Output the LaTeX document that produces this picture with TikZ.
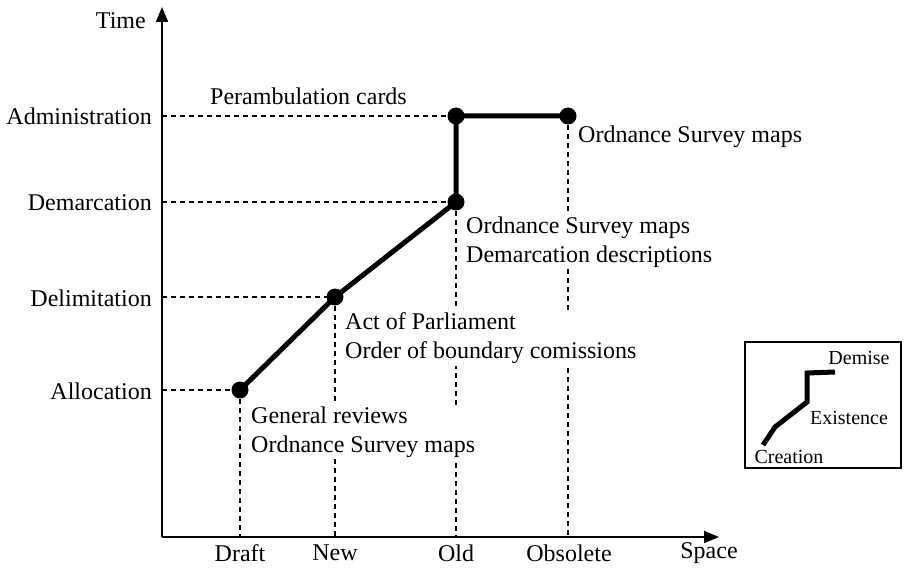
\documentclass[tikz,border=0pt]{standalone}
\usepackage{fontspec}
\setmainfont{Liberation Serif}
\usetikzlibrary{arrows.meta}
\begin{document}
\begin{tikzpicture}[x=1pt,y=-1pt,
  font=\fontsize{24}{29}\selectfont,
  axis/.style={line width=2pt,-{Triangle[length=15pt,width=12pt]}},
  guide/.style={line width=1.2pt,dash pattern=on 5pt off 4pt},
  life/.style={line width=5pt,line join=round},
  event/.style={circle,fill=black,inner sep=0pt,minimum size=17pt},
  note/.style={fill=white,align=left,inner sep=2pt,anchor=west},
  lbl/.style={inner sep=1pt},
  keylbl/.style={inner sep=1pt,font=\fontsize{20}{24}\selectfont}]
\useasboundingbox (0,0) rectangle (904,569);

% axes
\coordinate (O) at (162,537);
\coordinate (ytip) at (162,7);
\coordinate (xtip) at (719,537);
\draw[axis] (O) -- (ytip);
\draw[axis] (O) -- (xtip);
\node[lbl,anchor=east] (time) at (147,21) {Time};
\node[lbl] (space) at (709,553) {Space};

% stages on the space axis
\node[lbl] (draft) at (240,553) {Draft};
\node[lbl] (new) at (335,553) {New};
\node[lbl] (old) at (456,553) {Old};
\node[lbl] (obsolete) at (569,553) {Obsolete};

% stages on the time axis
\node[lbl,anchor=east] (adm) at (153,116) {Administration};
\node[lbl,anchor=east] (dem) at (153,203) {Demarcation};
\node[lbl,anchor=east] (del) at (153,298) {Delimitation};
\node[lbl,anchor=east] (all) at (153,391) {Allocation};

% feet of the guides on the axes
\coordinate (yadm) at (162,116);
\coordinate (ydem) at (162,202);
\coordinate (ydel) at (162,297);
\coordinate (yall) at (162,390);
\coordinate (xdraft) at (240,537);
\coordinate (xnew) at (335,537);
\coordinate (xold) at (456,537);
\coordinate (xobs) at (568,537);

% events
\coordinate (e1) at (240,390);
\coordinate (e2) at (335,297);
\coordinate (e3) at (456,202);
\coordinate (e4) at (456,116);
\coordinate (e5) at (568,116);

% dashed guides
\draw[guide] (yadm) -- (e4);
\draw[guide] (ydem) -- (e3);
\draw[guide] (ydel) -- (e2);
\draw[guide] (yall) -- (e1);
\draw[guide] (e1) -- (xdraft);
\draw[guide] (e2) -- (xnew);
\draw[guide] (e3) -- (xold);
\draw[guide] (e5) -- (xobs);

% life line
\draw[life] (e1) -- (e2) -- (e3) -- (e4) -- (e5);
\foreach \p in {e1,e2,e3,e4,e5}
  \node[event] (d\p) at (\p) {};

% sources
\node[note] (n0) at (208,96) {Perambulation cards};
\node[note] (n1) at (576,137) {Ordnance Survey maps};
\node[note] (n2) at (464,242) {Ordnance Survey maps\\Demarcation descriptions};
\node[note] (n3) at (343,338) {Act of Parliament\\Order of boundary comissions};
\node[note] (n4) at (249,432) {General reviews\\Ordnance Survey maps};

% key
\node[draw,line width=2pt,minimum width=156pt,minimum height=126pt,inner sep=0pt] (key) at (823,405) {};
\coordinate (k1) at (763,445);
\coordinate (k2) at (775,427);
\coordinate (k3) at (807,402);
\coordinate (k4) at (807,373);
\coordinate (k5) at (835,372);
\draw[life,line join=miter] (k1) -- (k2) -- (k3) -- (k4) -- (k5);
\node[keylbl] (kdemise) at (859,358) {Demise};
\node[keylbl] (kexist) at (849,418) {Existence};
\node[keylbl] (kcreate) at (789,457) {Creation};
\end{tikzpicture}
\end{document}
